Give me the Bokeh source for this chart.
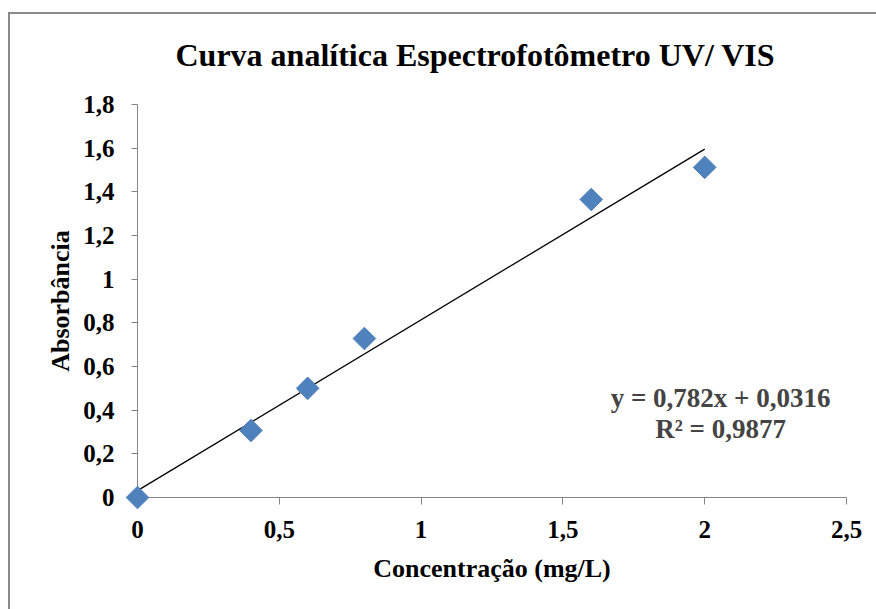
from bokeh.plotting import figure
from bokeh.models import Range1d, Label, FixedTicker, CustomJSTickFormatter, InlineStyleSheet
from bokeh.embed import file_html
from bokeh.resources import INLINE
import numpy as np

# Data
concentracao = [0.0, 0.4, 0.6, 0.8, 1.6, 2.0]
absorbancia = [0.0, 0.307, 0.5, 0.728, 1.365, 1.512]
slope = 0.782
intercept = 0.0316
trend_x = [0.0, 2.0]
x_ticks = [0, 0.5, 1, 1.5, 2, 2.5]
y_ticks = [0, 0.2, 0.4, 0.6, 0.8, 1.0, 1.2, 1.4, 1.6, 1.8]
title_text = "Curva analítica Espectrofotômetro UV/ VIS"
x_label = "Concentração (mg/L)"
y_label = "Absorbância"
eq_line1 = "y = 0,782x + 0,0316"
eq_line2 = "R² = 0,9877"

FONT = "Times"
GRAY = "#868686"

p = figure(width=876, height=609, output_backend="svg", toolbar_location=None,
           x_range=Range1d(0, 2.5), y_range=Range1d(0, 1.8),
           min_border_left=137, min_border_right=30, min_border_top=104, min_border_bottom=112,
           title=title_text)

# chart-area border (only its top and left edges fall inside the window)
border_css = InlineStyleSheet(css="""
:host { position: relative; overflow: hidden; }
:host::after {
  content: "";
  position: absolute;
  left: 8px; top: 12px;
  width: 100%; height: 100%;
  border-top: 2px solid #8a8a8a; border-left: 2px solid #8a8a8a;
  pointer-events: none; z-index: 10;
}
""")
p.stylesheets = [border_css]

p.title.align = "left"
p.title.offset = 38
p.title.vertical_align = "middle"
p.title.text_font = FONT
p.title.text_font_style = "bold"
p.title.text_font_size = "32px"
p.title.text_color = "black"
p.title.standoff = 62

p.outline_line_color = None
p.xgrid.grid_line_color = None
p.ygrid.grid_line_color = None

fmt = CustomJSTickFormatter(code="return String(Math.round(tick*10)/10).replace('.', ',');")
for ax, ticks in ((p.xaxis[0], x_ticks), (p.yaxis[0], y_ticks)):
    ax.ticker = FixedTicker(ticks=ticks)
    ax.formatter = fmt
    ax.axis_line_color = GRAY
    ax.major_tick_line_color = GRAY
    ax.minor_tick_line_color = None
    ax.major_tick_in = 0
    ax.major_label_text_font = FONT
    ax.major_label_text_font_style = "bold"
    ax.major_label_text_font_size = "25px"
    ax.major_label_text_color = "black"
    ax.axis_label_text_font = FONT
    ax.axis_label_text_font_style = "bold"
    ax.axis_label_text_font_size = "26px"
    ax.axis_label_text_color = "black"

p.xaxis.axis_label = x_label
p.yaxis.axis_label = y_label
p.xaxis.major_tick_out = 7
p.yaxis.major_tick_out = 6
p.xaxis.major_label_standoff = 16
p.yaxis.major_label_standoff = 17
p.xaxis.axis_label_standoff = 13
p.yaxis.axis_label_standoff = 5

trend_y = [slope * x + intercept for x in trend_x]
p.line(trend_x, trend_y, line_color="black", line_width=1.3)
p.scatter(concentracao, absorbancia, marker="square", angle=np.pi / 4, size=16,
          fill_color="#4F81BD", line_color="#4F81BD", level="overlay")

p.add_layout(Label(x=2.056, y=0.458, text=eq_line1, text_align="center", text_baseline="middle",
                   text_font=FONT, text_font_style="bold", text_font_size="27px"))
p.add_layout(Label(x=2.056, y=0.316, text=eq_line2, text_align="center", text_baseline="middle",
                   text_font=FONT, text_font_style="bold", text_font_size="27px"))

open("out.html", "w").write(file_html(p, INLINE))
